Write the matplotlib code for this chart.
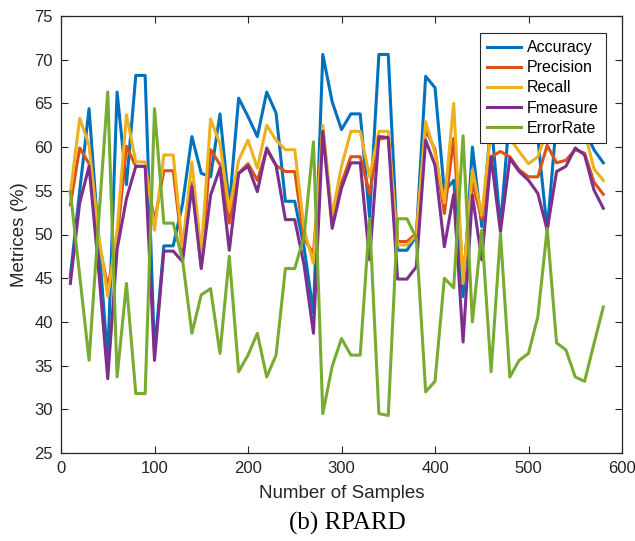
import matplotlib
matplotlib.use("Agg")
import matplotlib.pyplot as plt
import numpy as np

samples = list(range(10, 590, 10))

accuracy = [45.2, 55.0, 64.4, 49.7, 35.6, 66.3, 55.7, 68.2, 68.2, 36.5,
            48.7, 48.7, 53.5, 61.2, 57.0, 56.6, 63.8, 53.2, 65.6, 63.5,
            61.2, 66.3, 63.9, 53.8, 53.8, 48.5, 41.0, 70.6, 65.2, 62.0,
            63.8, 63.8, 52.0, 70.6, 70.6, 48.2, 48.2, 49.8, 68.1, 66.8,
            54.9, 56.2, 42.9, 60.0, 50.9, 63.0, 50.9, 64.0, 63.0, 62.0,
            61.0, 50.5, 63.0, 63.5, 62.5, 62.0, 59.7, 58.2]

precision = [53.4, 59.9, 58.1, 49.4, 44.0, 49.4, 60.1, 57.8, 57.8, 51.5,
             57.3, 57.3, 48.2, 55.9, 46.3, 59.7, 58.0, 51.3, 57.0, 58.1,
             56.2, 59.7, 57.9, 57.2, 57.2, 49.5, 47.8, 62.0, 51.3, 55.9,
             58.9, 58.9, 54.7, 60.9, 61.1, 49.2, 49.2, 50.1, 62.0, 59.7,
             52.4, 61.0, 45.0, 55.9, 51.8, 58.9, 59.5, 58.9, 57.4, 56.6,
             56.6, 60.2, 58.2, 58.5, 59.7, 59.3, 56.0, 54.6]

recall = [54.7, 63.3, 60.2, 50.2, 42.9, 50.5, 63.7, 58.3, 58.3, 50.5,
          59.1, 59.1, 48.6, 58.3, 47.8, 63.2, 60.4, 52.8, 58.5, 60.8,
          57.6, 62.5, 60.8, 59.7, 59.7, 50.6, 46.7, 62.5, 52.2, 57.8,
          61.8, 61.8, 56.6, 61.8, 61.8, 48.8, 48.8, 49.9, 62.9, 59.3,
          53.6, 65.0, 44.4, 57.4, 52.2, 62.0, 61.5, 61.0, 59.5, 58.1,
          58.9, 62.0, 62.5, 63.0, 63.0, 61.8, 57.5, 56.2]

fmeasure = [44.4, 53.6, 57.8, 46.3, 33.5, 48.3, 54.1, 57.8, 57.8, 35.6,
            48.1, 48.1, 46.9, 55.5, 46.1, 54.5, 57.6, 48.2, 57.0, 57.8,
            54.9, 59.9, 57.9, 51.7, 51.7, 46.5, 38.7, 61.8, 50.7, 55.3,
            58.2, 58.2, 47.1, 61.2, 61.1, 44.9, 44.9, 46.3, 60.8, 57.9,
            48.6, 54.6, 37.7, 54.5, 47.1, 58.9, 50.3, 58.7, 57.2, 56.2,
            54.7, 50.5, 57.2, 57.8, 59.9, 59.1, 55.1, 53.0]

error_rate = [54.9, 45.3, 35.6, 51.2, 66.3, 33.7, 44.4, 31.8, 31.8, 64.4,
              51.3, 51.3, 47.1, 38.7, 43.1, 43.8, 36.4, 47.5, 34.3, 36.2,
              38.7, 33.7, 36.2, 46.1, 46.1, 49.8, 60.6, 29.5, 34.9, 38.1,
              36.2, 36.2, 51.8, 29.5, 29.3, 51.8, 51.8, 49.6, 32.0, 33.2,
              45.0, 43.9, 61.3, 40.0, 50.5, 34.3, 50.1, 33.7, 35.6, 36.4,
              40.6, 50.7, 37.6, 36.8, 33.7, 33.2, 37.5, 41.7]

series_names = ["Accuracy", "Precision", "Recall", "Fmeasure", "ErrorRate"]
colors = ["#0072BD", "#D95319", "#EDB120", "#7E2F8E", "#77AC30"]

x_ticks = [0, 100, 200, 300, 400, 500, 600]
y_ticks = [25, 30, 35, 40, 45, 50, 55, 60, 65, 70, 75]

plt.rcParams['font.family'] = ['Liberation Sans', 'DejaVu Sans']

fig = plt.figure(figsize=(6.35, 5.41), dpi=100)
ax = fig.add_axes([61/635, 1 - 453/541, (622-61)/635, (453-16)/541])

for vals, name, c in zip([accuracy, precision, recall, fmeasure, error_rate], series_names, colors):
    ax.plot(samples, vals, color=c, linewidth=2.2, label=name)

ax.set_xlim(0, 600)
ax.set_ylim(25, 75)
ax.set_xticks(x_ticks)
ax.set_yticks(y_ticks)
ax.tick_params(direction='in', top=True, right=True, labelsize=12, length=5,
               width=0.8, colors='#262626', labelcolor='#262626', pad=6)
for sp in ax.spines.values():
    sp.set_color('#262626')
    sp.set_linewidth(0.9)

ax.set_xlabel("Number of Samples", fontsize=13.5, color='#262626', labelpad=6)
ax.set_ylabel("Metrices (%)", fontsize=13.5, color='#262626', labelpad=4)

leg = ax.legend(loc='upper right', bbox_to_anchor=(1 - 16/561, 1 - 17/437), fontsize=11.5,
                frameon=True, fancybox=False, edgecolor='#262626', framealpha=1,
                handlelength=2.1, handletextpad=0.4, labelspacing=0.32,
                borderpad=0.45, borderaxespad=0)
leg.get_frame().set_linewidth(0.8)

fig.text(0.5 + 30/635, 1 - 523/541, "(b) RPARD", ha='center', va='center',
         fontsize=18, family='Liberation Serif')

fig.savefig("out.png", dpi=100)
